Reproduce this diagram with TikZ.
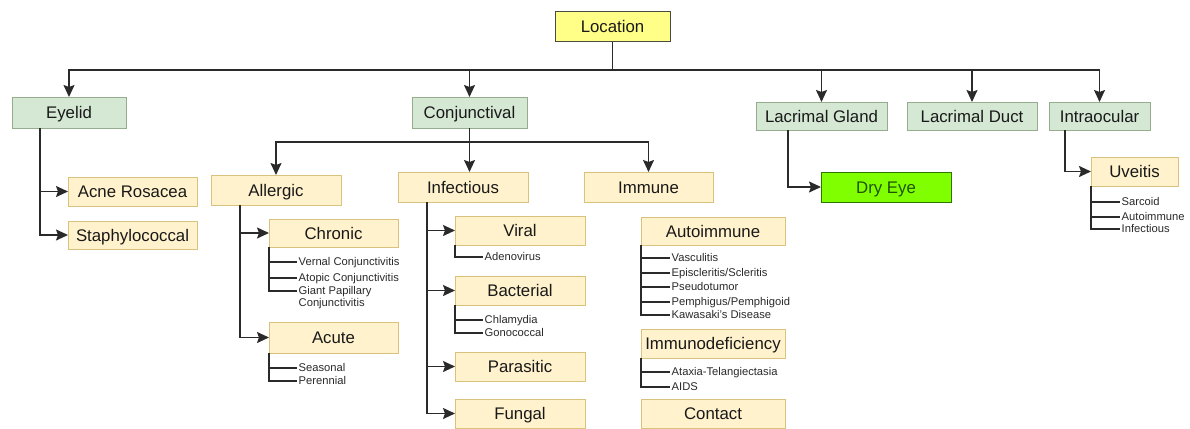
\documentclass[tikz,border=0pt]{standalone}
\usepackage{fontspec}
\setmainfont{Liberation Sans}
\usetikzlibrary{arrows.meta}
\definecolor{gfill}{HTML}{D5E8D4}
\definecolor{gdraw}{HTML}{95AC8F}
\definecolor{yfill}{HTML}{FFF2CC}
\definecolor{ydraw}{HTML}{D9C27E}
\definecolor{lfill}{HTML}{FFFF88}
\definecolor{ldraw}{HTML}{4A4A40}
\definecolor{dfill}{HTML}{80FF00}
\definecolor{ddraw}{HTML}{2D7600}
\definecolor{ink}{HTML}{2A2A2A}
\newcommand\bx[7]{\node[#1, anchor=north west, minimum width={(#5-#3)*1pt}, minimum height={(#6-#4)*1pt}] (#2) at (#3,#4) {#7};}
\tikzset{
  basebox/.style={draw, line width=1pt, inner sep=0pt, outer sep=0pt, font=\fontsize{16.8}{18}\selectfont, text=black!90, text height=13pt, text depth=1pt},
  greenbox/.style={basebox, fill=gfill, draw=gdraw},
  yelbox/.style={basebox, fill=yfill, draw=ydraw},
  locbox/.style={basebox, fill=lfill, draw=ldraw},
  drybox/.style={basebox, fill=dfill, draw=ddraw, text=ddraw!70!black},
  item/.style={anchor=west, inner sep=1.5pt, font=\fontsize{11.2}{12}\selectfont, text=ink, text height=8pt, text depth=2pt},
  arr/.style={draw=ink, line width=1.6pt, -{Stealth[length=12pt,width=11pt,inset=2pt]}},
  conn/.style={draw=ink, line width=1.6pt},
  lconn/.style={draw=ink, line width=1.3pt},
}
\begin{document}
\begin{tikzpicture}[x=1pt,y=-1pt]
\useasboundingbox[fill=white] (0,0) rectangle (1190,428);
% top level
\bx{locbox}{loc}{555}{12}{670}{42}{Location}
\bx{greenbox}{eyelid}{12}{97}{126}{128}{Eyelid}
\bx{greenbox}{conj}{412}{97}{527}{128}{Conjunctival}
\bx{greenbox}{lg}{756}{102}{887}{130}{Lacrimal Gland}
\bx{greenbox}{ld}{907}{102}{1037}{130}{Lacrimal Duct}
\bx{greenbox}{intra}{1049}{102}{1150}{130}{Intraocular}
% eyelid
\bx{yelbox}{acne}{68}{177}{197}{206}{Acne Rosacea}
\bx{yelbox}{staph}{68}{221}{197}{249}{Staphylococcal}
% conjunctival
\bx{yelbox}{allergic}{211}{175}{341}{205}{Allergic}
\bx{yelbox}{infectious}{398}{172}{528}{202}{Infectious}
\bx{yelbox}{immune}{584}{172}{713}{202}{Immune}
\bx{yelbox}{chronic}{269}{219}{398}{247}{Chronic}
\bx{yelbox}{acute}{269}{322}{398}{353}{Acute}
\bx{yelbox}{viral}{455}{216}{585}{245}{Viral}
\bx{yelbox}{bacterial}{455}{276}{585}{305}{Bacterial}
\bx{yelbox}{parasitic}{455}{352}{585}{381}{Parasitic}
\bx{yelbox}{fungal}{455}{399}{585}{428}{Fungal}
\bx{yelbox}{auto}{641}{217}{785}{245}{Autoimmune}
\bx{yelbox}{immdef}{641}{329}{785}{358}{Immunodeficiency}
\bx{yelbox}{contact}{641}{399}{785}{428}{Contact}
% lacrimal / intraocular
\bx{drybox}{dry}{821}{172}{951}{202}{Dry Eye}
\bx{yelbox}{uveitis}{1091}{157}{1178}{186}{Uveitis}
% list items
\node[item] (c1) at (297,262) {Vernal Conjunctivitis};
\node[item] (c2) at (297,278) {Atopic Conjunctivitis};
\node[item] (c3) at (297,291) {Giant Papillary};
\node[item] (c4) at (297,303) {Conjunctivitis};
\node[item] (a1) at (297,368) {Seasonal};
\node[item] (a2) at (297,381) {Perennial};
\node[item] (v1) at (483,257) {Adenovirus};
\node[item] (b1) at (483,320) {Chlamydia};
\node[item] (b2) at (483,333) {Gonococcal};
\node[item] (m1) at (670,258) {Vasculitis};
\node[item] (m2) at (670,273) {Episcleritis/Scleritis};
\node[item] (m3) at (670,287) {Pseudotumor};
\node[item] (m4) at (670,302) {Pemphigus/Pemphigoid};
\node[item] (m5) at (670,315) {Kawasaki's Disease};
\node[item] (d1) at (670,372) {Ataxia-Telangiectasia};
\node[item] (d2) at (670,387) {AIDS};
\node[item] (u1) at (1120,202) {Sarcoid};
\node[item] (u2) at (1120,217) {Autoimmune};
\node[item] (u3) at (1120,229) {Infectious};
% buses
\coordinate (bus1) at (0,70);
\coordinate (bus2) at (0,142);
\draw[conn] (loc.south) -- (loc.south |- bus1);
\draw[arr] (loc.south |- bus1) -| (eyelid.north);
\draw[arr] (loc.south |- bus1) -| (conj.north);
\draw[arr] (loc.south |- bus1) -| (lg.north);
\draw[arr] (loc.south |- bus1) -| (ld.north);
\draw[arr] (loc.south |- bus1) -| (intra.north);
% conjunctival children
\draw[conn] (conj.south) -- (conj.south |- bus2);
\draw[arr] (conj.south |- bus2) -| (allergic.north);
\draw[arr] (conj.south |- bus2) -| (immune.north);
\draw[arr] (conj.south) -- (conj.south |- infectious.north);
% eyelid children
\coordinate (e0) at ([xshift=-29pt]eyelid.south);
\draw[arr] (e0) |- (acne.west);
\draw[arr] (e0) |- (staph.west);
% allergic children
\coordinate (al0) at ([xshift=-36pt]allergic.south);
\draw[arr] (al0) |- (chronic.west);
\draw[arr] (al0) |- (acute.west);
% infectious children
\coordinate (in0) at ([xshift=-36pt]infectious.south);
\draw[arr] (in0) |- (viral.west);
\draw[arr] (in0) |- (bacterial.west);
\draw[arr] (in0) |- (parasitic.west);
\draw[arr] (in0) |- (fungal.west);
% lacrimal gland
\coordinate (lg0) at ([xshift=-33.5pt]lg.south);
\draw[arr] (lg0) |- (dry.west);
% intraocular
\coordinate (io0) at ([xshift=-34.5pt]intra.south);
\draw[arr] (io0) |- (uveitis.west);
% list connectors
\draw[lconn] (chronic.south west) |- (c3.west);
\draw[lconn] (chronic.south west |- c1.west) -- (c1.west);
\draw[lconn] (chronic.south west |- c2.west) -- (c2.west);
\draw[lconn] (acute.south west) |- (a2.west);
\draw[lconn] (acute.south west |- a1.west) -- (a1.west);
\draw[lconn] (viral.south west) |- (v1.west);
\draw[lconn] (bacterial.south west) |- (b2.west);
\draw[lconn] (bacterial.south west |- b1.west) -- (b1.west);
\draw[lconn] (auto.south west) |- (m5.west);
\draw[lconn] (auto.south west |- m1.west) -- (m1.west);
\draw[lconn] (auto.south west |- m2.west) -- (m2.west);
\draw[lconn] (auto.south west |- m3.west) -- (m3.west);
\draw[lconn] (auto.south west |- m4.west) -- (m4.west);
\draw[lconn] (immdef.south west) |- (d2.west);
\draw[lconn] (immdef.south west |- d1.west) -- (d1.west);
\draw[lconn] (uveitis.south west) |- (u3.west);
\draw[lconn] (uveitis.south west |- u1.west) -- (u1.west);
\draw[lconn] (uveitis.south west |- u2.west) -- (u2.west);
\end{tikzpicture}
\end{document}
